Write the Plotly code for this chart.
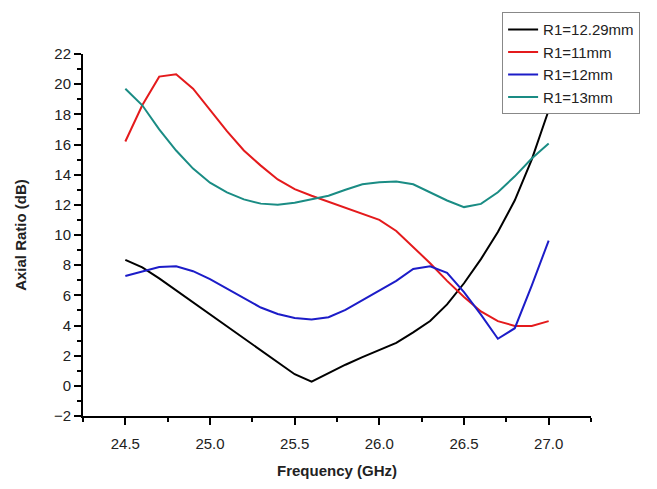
import plotly.graph_objects as go

freq = [24.5, 24.6, 24.7, 24.8, 24.9, 25.0, 25.1, 25.2, 25.3, 25.4, 25.5, 25.6, 25.7,
        25.8, 25.9, 26.0, 26.1, 26.2, 26.3, 26.4, 26.5, 26.6, 26.7, 26.8, 26.9, 27.0]

ar_r1229 = [8.35, 7.85, 7.12, 6.32, 5.54, 4.74, 3.95, 3.14, 2.35, 1.56, 0.77, 0.28, 0.85,
            1.4, 1.9, 2.35, 2.85, 3.55, 4.3, 5.4, 6.8, 8.4, 10.2, 12.3, 15.0, 18.27]
ar_r11 = [16.2, 18.6, 20.5, 20.65, 19.7, 18.3, 16.88, 15.6, 14.6, 13.68, 13.04, 12.6, 12.2,
          11.8, 11.4, 11.0, 10.27, 9.2, 8.13, 6.96, 5.89, 4.93, 4.29, 3.97, 3.97, 4.29]
ar_r12 = [7.28, 7.6, 7.88, 7.92, 7.6, 7.07, 6.43, 5.79, 5.19, 4.76, 4.5, 4.4, 4.55,
          5.04, 5.68, 6.3, 6.96, 7.75, 7.92, 7.49, 6.21, 4.72, 3.12, 3.82, 6.64, 9.63]
ar_r13 = [19.7, 18.6, 17.0, 15.6, 14.4, 13.47, 12.83, 12.36, 12.08, 12.0, 12.14, 12.36, 12.6,
          13.0, 13.36, 13.5, 13.55, 13.36, 12.83, 12.29, 11.85, 12.06, 12.83, 13.89, 15.07, 16.07]

series = [
    ("R1=12.29mm", ar_r1229, "#000000"),
    ("R1=11mm", ar_r11, "#e41a1c"),
    ("R1=12mm", ar_r12, "#1c1cc8"),
    ("R1=13mm", ar_r13, "#1a8c84"),
]

fig = go.Figure()
for name, vals, col in series:
    fig.add_trace(go.Scatter(x=freq, y=vals, mode="lines", name=name,
                             line=dict(color=col, width=2)))

font_family = "Liberation Sans, Arial, sans-serif"
fig.update_layout(
    width=657, height=489,
    margin=dict(l=83, r=66, t=50, b=64),
    paper_bgcolor="white", plot_bgcolor="white",
    font=dict(family=font_family, size=15, color="#222"),
    showlegend=True,
    legend=dict(x=0.825, y=1.115, xanchor="left", yanchor="top",
                bordercolor="#888", borderwidth=1, bgcolor="white",
                font=dict(size=15, color="#222"), tracegroupgap=0,
                itemwidth=30),
    xaxis=dict(range=[24.25, 27.25], tickmode="linear", tick0=24.5, dtick=0.5,
               tickformat=".1f", showgrid=False, zeroline=False,
               showline=True, linecolor="black", linewidth=2,
               ticks="outside", ticklen=7, tickwidth=1.5, tickcolor="black",
               ticklabelstandoff=6,
               minor=dict(ticks="outside", ticklen=4, tick0=24.25, dtick=0.25,
                          tickcolor="black", tickwidth=1.5, showgrid=False),
               title=dict(text="<b>Frequency (GHz)</b>", font=dict(size=15), standoff=14)),
    yaxis=dict(range=[-2, 22], tickmode="linear", tick0=-2, dtick=2,
               showgrid=False, zeroline=False,
               showline=True, linecolor="black", linewidth=2,
               ticks="outside", ticklen=7, tickwidth=1.5, tickcolor="black",
               minor=dict(ticks="outside", ticklen=4, dtick=1,
                          tickcolor="black", tickwidth=1.5, showgrid=False),
               title=dict(text="<b>Axial Ratio (dB)</b>", font=dict(size=15), standoff=24)),
)

fig.write_html("out.html")
